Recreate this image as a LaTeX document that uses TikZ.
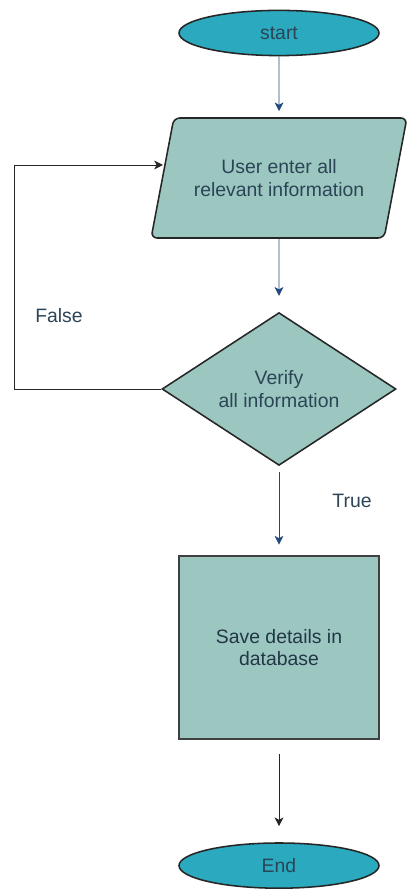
\documentclass[tikz,border=0pt]{standalone}
\usepackage{fontspec}
\setmainfont{Liberation Sans}
\usetikzlibrary{shapes.geometric,arrows.meta}
\definecolor{termfill}{HTML}{2AA9BF}
\definecolor{boxfill}{HTML}{9BC7C0}
\definecolor{boxtext}{HTML}{2C4457}
\definecolor{flowblue}{HTML}{1F497D}
\begin{document}
\begin{tikzpicture}[
        font=\fontsize{13.8}{15.8}\selectfont,
        terminal/.style={ellipse, draw=black!85, line width=1.1pt, fill=termfill, text=boxtext, minimum width=5cm, minimum height=1.13cm},
        inout/.style={trapezium, trapezium left angle=67, trapezium right angle=113, trapezium stretches=true, rounded corners=0.15cm, draw=black!85, line width=1.1pt, fill=boxfill, text=boxtext, align=center, minimum width=6.4cm, minimum height=3cm},
        decision/.style={diamond, aspect=1.53, inner sep=0pt, draw=black!85, line width=1.1pt, fill=boxfill, text=boxtext, align=center, minimum width=5.85cm, minimum height=3.82cm},
        process/.style={rectangle, draw=black!75, line width=1.1pt, fill=boxfill, text=boxtext!80!black, align=center, minimum width=5cm, minimum height=4.57cm},
        flow/.style={-{Stealth[length=2.2mm,width=2.2mm,inset=0.6mm]}, line width=0.6pt},
        branch/.style={text=boxtext},
    ]
            \useasboundingbox (0, 0) rectangle (10.15, 22.25);
            \node[terminal] (start) at (6.975, 21.425) {start};
            \node[inout] (user) at (6.975, 17.8) {User enter all\\relevant information};
            \node[decision] (verify) at (6.975, 12.525) {Verify\\all information};
            \node[process] (save) at (6.975, 6.06) {Save details in\\database};
            \node[terminal] (end) at (6.975, 0.61) {End};
            \node[branch] (false) at (1.475, 14.35) {False};
            \node[branch] (true) at (8.8, 9.725) {True};
            \coordinate (back) at (4.075, 18.125);
            \draw[flow, flowblue, shorten >=0.15cm] (start) -- (user);
            \draw[flow, flowblue, shorten >=0.4cm] (user) -- (verify);
            \draw[flow, flowblue, shorten <=0.15cm, shorten >=0.27cm] (verify) -- (save);
            \draw[flow, black!85, shorten <=0.35cm, shorten >=0.4cm] (save) -- (end);
            \draw[flow, black!85] (verify.west) -| (0.35, 18.125) -- (back);
        \end{tikzpicture}
\end{document}
